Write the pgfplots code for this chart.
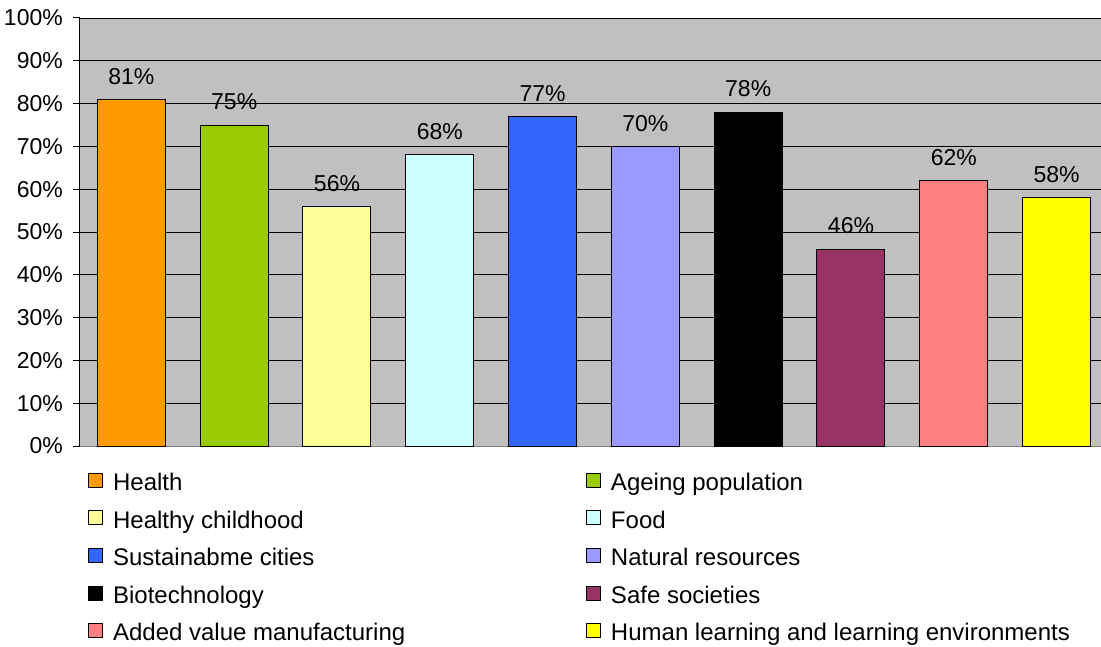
\documentclass[border=0pt]{standalone}
\usepackage{fontspec}
\setmainfont{Liberation Sans}
\usepackage{pgfplots}
\pgfplotsset{compat=1.18}
\definecolor{bgray}{HTML}{C0C0C0}
\definecolor{c1}{HTML}{FF9900}
\definecolor{c2}{HTML}{99CC00}
\definecolor{c3}{HTML}{FFFF99}
\definecolor{c4}{HTML}{CCFFFF}
\definecolor{c5}{HTML}{3366FF}
\definecolor{c6}{HTML}{9999FF}
\definecolor{c7}{HTML}{000000}
\definecolor{c8}{HTML}{993366}
\definecolor{c9}{HTML}{FF8080}
\definecolor{c10}{HTML}{FFFF00}
\newcommand{\lc}[1]{\makebox[471pt][l]{#1}}
\begin{document}
\begin{tikzpicture}
\begin{axis}[
  scale only axis, width=1028pt, height=428pt,
  xmin=-0.5, xmax=9.5, ymin=0, ymax=100,
  axis background/.style={fill=bgray},
  ybar, bar width=68pt, bar shift=0pt,
  axis y line*=left, axis x line*=bottom,
  x axis line style={draw=gray, line width=0.6pt},
  y axis line style={draw=black, line width=1pt},
  xtick=\empty,
  ytick={0,10,...,100},
  yticklabels={0\%,10\%,20\%,30\%,40\%,50\%,60\%,70\%,80\%,90\%,100\%},
  yticklabel style={inner sep=0pt, xshift=-10pt},
  ymajorgrids, grid style={black, line width=0.9pt},
  tick align=outside, major tick length=7pt,
  tick style={black, line width=1pt},
  font=\fontsize{23}{27}\selectfont,
  /pgf/number format/assume math mode=true,
  nodes near coords={\pgfmathprintnumber{\pgfplotspointmeta}\%},
  every node near coord/.append style={inner sep=0pt, yshift=14.5pt, black},
  legend columns=2,
  legend image code/.code={\draw[#1,draw=black,line width=0.9pt] (0pt,-2pt) rectangle (14pt,12pt);},
  legend style={draw=none, fill=none, at={(0,0)}, anchor=north west, xshift=8pt, yshift=-26.5pt,
    inner sep=0pt, row sep=13.9pt,
    /tikz/every odd column/.append style={column sep=8pt},
    nodes={inner sep=2pt, text height=14.5pt, text depth=4pt, anchor=west},
    font=\fontsize{24}{28}\selectfont},
  legend cell align=left,
]
\addplot[fill=c1, draw=black, line width=1pt, bar shift=0pt] coordinates {(0,81)};
\addlegendentry{\lc{Health}}
\addplot[fill=c2, draw=black, line width=1pt, bar shift=0pt] coordinates {(1,75)};
\addlegendentry{Ageing population}
\addplot[fill=c3, draw=black, line width=1pt, bar shift=0pt] coordinates {(2,56)};
\addlegendentry{\lc{Healthy childhood}}
\addplot[fill=c4, draw=black, line width=1pt, bar shift=0pt] coordinates {(3,68)};
\addlegendentry{Food}
\addplot[fill=c5, draw=black, line width=1pt, bar shift=0pt] coordinates {(4,77)};
\addlegendentry{\lc{Sustainabme cities}}
\addplot[fill=c6, draw=black, line width=1pt, bar shift=0pt] coordinates {(5,70)};
\addlegendentry{Natural resources}
\addplot[fill=c7, draw=black, line width=1pt, bar shift=0pt] coordinates {(6,78)};
\addlegendentry{\lc{Biotechnology}}
\addplot[fill=c8, draw=black, line width=1pt, bar shift=0pt] coordinates {(7,46)};
\addlegendentry{Safe societies}
\addplot[fill=c9, draw=black, line width=1pt, bar shift=0pt] coordinates {(8,62)};
\addlegendentry{\lc{Added value manufacturing}}
\addplot[fill=c10, draw=black, line width=1pt, bar shift=0pt] coordinates {(9,58)};
\addlegendentry{Human learning and learning environments}
\end{axis}
\pgfresetboundingbox
\path (-80pt,-200pt) rectangle (1021pt,446pt);
\end{tikzpicture}
\end{document}
